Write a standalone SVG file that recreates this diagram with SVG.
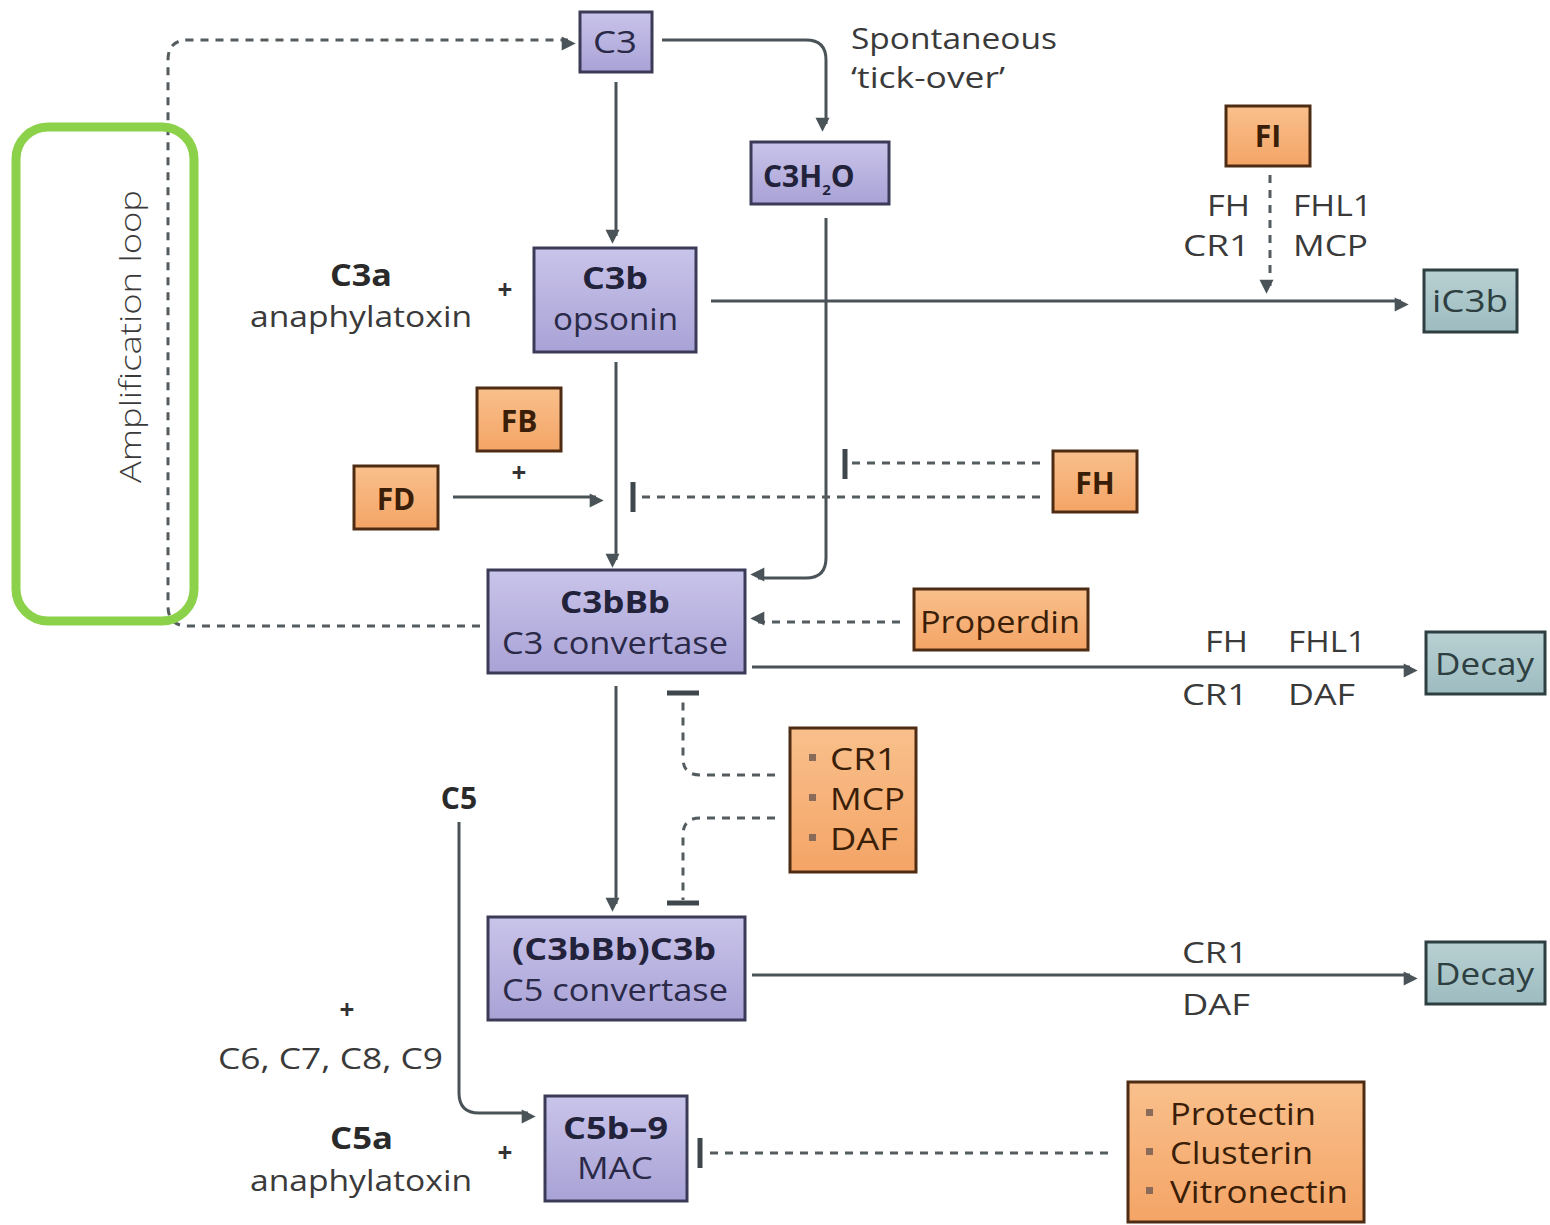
<svg xmlns="http://www.w3.org/2000/svg" width="1550" height="1225" viewBox="0 0 1550 1225">
<defs>
<linearGradient id="lav" x1="0" y1="0" x2="0" y2="1"><stop offset="0" stop-color="#c9c4ea"/><stop offset="1" stop-color="#a9a2d6"/></linearGradient>
<linearGradient id="org" x1="0" y1="0" x2="0" y2="1"><stop offset="0" stop-color="#f9c08c"/><stop offset="1" stop-color="#f4a466"/></linearGradient>
<linearGradient id="teal" x1="0" y1="0" x2="0" y2="1"><stop offset="0" stop-color="#b8d0d2"/><stop offset="1" stop-color="#9dbcc0"/></linearGradient>
<marker id="ah" viewBox="0 0 10 10" refX="9" refY="5" markerWidth="7" markerHeight="7" orient="auto" markerUnits="userSpaceOnUse" style="overflow:visible">
<path d="M0,0 L10,5 L0,10 z" fill="#4a5358" transform="scale(2)"/>
</marker>
<style>
.lav{fill:url(#lav);stroke:#3b3b58;stroke-width:3}
.org{fill:url(#org);stroke:#4e2c14;stroke-width:3}
.teal{fill:url(#teal);stroke:#2e3f42;stroke-width:3}
.ln{fill:none;stroke:#4a5358;stroke-width:3}
.ds{fill:none;stroke:#555c60;stroke-width:3;stroke-dasharray:8 7}
.bar{stroke:#3e474c;stroke-width:5}
text{font-family:"Open Sans","Liberation Sans",sans-serif}
.bt{font-weight:bold;fill:#22223a;font-size:30px}
.nt{fill:#2a2a48;font-size:31px}
.ot{fill:#3a1e08;font-size:31px}
.obt{fill:#3a1e08;font-size:30px;font-weight:bold}
.tt{fill:#2e3f42;font-size:31px}
.lb{fill:#3a3a3a;font-size:30px}
.lbb{fill:#2a2a2a;font-size:30px;font-weight:bold}
.pl{fill:#333;font-size:26px;font-weight:bold}
</style>
</defs>
<rect width="1550" height="1225" fill="#ffffff"/>

<g id="connectors">
<path class="ln" d="M616,82 V236" marker-end="url(#ah)"/>
<path class="ln" d="M662,40 H806 Q826,40 826,60 V124" marker-end="url(#ah)"/>
<path class="ln" d="M826,218 V558 Q826,578 806,578 H758" marker-end="url(#ah)"/>
<path class="ln" d="M616,362 V560" marker-end="url(#ah)"/>
<path class="ln" d="M453,497 H596" marker-end="url(#ah)"/>
<path class="ds" d="M1040,497 H636"/>
<line class="bar" x1="633" y1="482" x2="633" y2="512"/>
<path class="ds" d="M1040,463 H848"/>
<line class="bar" x1="845" y1="449" x2="845" y2="479"/>
<path class="ln" d="M711,301 H1401" marker-end="url(#ah)"/>
<path class="ds" d="M1270,175 V286" marker-end="url(#ah)"/>
<path class="ds" d="M480,626 H188 Q168,626 168,606 V60 Q168,40 188,40 H568" marker-end="url(#ah)"/>
<path class="ds" d="M900,622 H758" marker-end="url(#ah)"/>
<path class="ln" d="M752,667 H1410" marker-end="url(#ah)"/>
<path class="ln" d="M616,686 V904" marker-end="url(#ah)"/>
<path class="ds" d="M775,775 H700 Q683,775 683,758 V696"/>
<line class="bar" x1="667" y1="693" x2="699" y2="693"/>
<path class="ds" d="M775,818 H700 Q683,818 683,835 V900"/>
<line class="bar" x1="667" y1="903" x2="699" y2="903"/>
<path class="ln" d="M752,975 H1410" marker-end="url(#ah)"/>
<path class="ln" d="M459,822 V1093 Q459,1113 479,1113 H528" marker-end="url(#ah)"/>
<path class="ds" d="M1108,1153 H704"/>
<line class="bar" x1="700" y1="1138" x2="700" y2="1168"/>
</g>

<g id="amplification-loop">
<rect x="16" y="127" width="178" height="494" rx="32" fill="none" stroke="#8bd14a" stroke-width="9"/>
<text class="lb" x="-483" y="141" font-size="29" textLength="293" lengthAdjust="spacingAndGlyphs" transform="rotate(-90)" style="font-weight:300">Amplification loop</text>
</g>

<g id="C3"><rect class="lav" x="580" y="12" width="72" height="60"/><text class="nt" x="593" y="53" textLength="44" lengthAdjust="spacingAndGlyphs">C3</text></g>
<g id="tickover"><text class="lb" x="851" y="49" textLength="206" lengthAdjust="spacingAndGlyphs">Spontaneous</text><text class="lb" x="851" y="88" textLength="154" lengthAdjust="spacingAndGlyphs">‘tick-over’</text></g>
<g id="C3H2O"><rect class="lav" x="751" y="142" width="138" height="62"/><text class="bt" x="763" y="187" font-size="33">C3H<tspan font-size="15" dy="8">2</tspan><tspan dy="-8">O</tspan></text></g>
<g id="C3b"><rect class="lav" x="534" y="248" width="162" height="104"/><text class="bt" x="582" y="289" textLength="66" lengthAdjust="spacingAndGlyphs">C3b</text><text class="nt" x="553" y="330" textLength="125" lengthAdjust="spacingAndGlyphs">opsonin</text></g>
<g id="C3a"><text class="lbb" x="330" y="286" textLength="62" lengthAdjust="spacingAndGlyphs">C3a</text><text class="lb" x="250" y="327" textLength="222" lengthAdjust="spacingAndGlyphs">anaphylatoxin</text><text class="pl" x="505" y="299" text-anchor="middle">+</text></g>
<g id="FI"><rect class="org" x="1226" y="106" width="84" height="60"/><text class="obt" x="1268" y="147" text-anchor="middle">FI</text></g>
<g id="FI-labels"><text class="lb" x="1207" y="216" textLength="43" lengthAdjust="spacingAndGlyphs">FH</text><text class="lb" x="1293" y="216" textLength="79" lengthAdjust="spacingAndGlyphs">FHL1</text><text class="lb" x="1183" y="256" textLength="67" lengthAdjust="spacingAndGlyphs">CR1</text><text class="lb" x="1293" y="256" textLength="75" lengthAdjust="spacingAndGlyphs">MCP</text></g>
<g id="iC3b"><rect class="teal" x="1424" y="270" width="93" height="62"/><text class="tt" x="1432" y="312" textLength="76" lengthAdjust="spacingAndGlyphs">iC3b</text></g>
<g id="FB"><rect class="org" x="477" y="388" width="84" height="63"/><text class="obt" x="519" y="432" text-anchor="middle">FB</text><text class="pl" x="519" y="482" text-anchor="middle">+</text></g>
<g id="FD"><rect class="org" x="354" y="466" width="84" height="63"/><text class="obt" x="396" y="510" text-anchor="middle">FD</text></g>
<g id="FH"><rect class="org" x="1053" y="451" width="84" height="61"/><text class="obt" x="1095" y="494" text-anchor="middle">FH</text></g>
<g id="C3bBb"><rect class="lav" x="488" y="570" width="257" height="103"/><text class="bt" x="560" y="613" textLength="110" lengthAdjust="spacingAndGlyphs">C3bBb</text><text class="nt" x="502" y="654" textLength="226" lengthAdjust="spacingAndGlyphs">C3 convertase</text></g>
<g id="Properdin"><rect class="org" x="914" y="589" width="174" height="61"/><text class="ot" x="920" y="633" textLength="160" lengthAdjust="spacingAndGlyphs">Properdin</text></g>
<g id="decay1-labels"><text class="lb" x="1205" y="652" textLength="43" lengthAdjust="spacingAndGlyphs">FH</text><text class="lb" x="1288" y="652" textLength="78" lengthAdjust="spacingAndGlyphs">FHL1</text><text class="lb" x="1182" y="705" textLength="66" lengthAdjust="spacingAndGlyphs">CR1</text><text class="lb" x="1288" y="705" textLength="67" lengthAdjust="spacingAndGlyphs">DAF</text></g>
<g id="Decay1"><rect class="teal" x="1426" y="632" width="119" height="62"/><text class="tt" x="1435" y="675" textLength="99" lengthAdjust="spacingAndGlyphs">Decay</text></g>
<g id="CR1-MCP-DAF"><rect class="org" x="790" y="728" width="126" height="144"/>
<rect x="809" y="754" width="7" height="7" fill="#8a6a58"/><text class="ot" x="830" y="770" textLength="67" lengthAdjust="spacingAndGlyphs">CR1</text>
<rect x="809" y="794" width="7" height="7" fill="#8a6a58"/><text class="ot" x="830" y="810" textLength="75" lengthAdjust="spacingAndGlyphs">MCP</text>
<rect x="809" y="834" width="7" height="7" fill="#8a6a58"/><text class="ot" x="830" y="850" textLength="68" lengthAdjust="spacingAndGlyphs">DAF</text></g>
<g id="C5"><text class="lbb" x="459" y="809" text-anchor="middle">C5</text></g>
<g id="C5conv"><rect class="lav" x="488" y="917" width="257" height="103"/><text class="bt" x="512" y="960" textLength="204" lengthAdjust="spacingAndGlyphs">(C3bBb)C3b</text><text class="nt" x="502" y="1001" textLength="226" lengthAdjust="spacingAndGlyphs">C5 convertase</text></g>
<g id="decay2-labels"><text class="lb" x="1182" y="963" textLength="66" lengthAdjust="spacingAndGlyphs">CR1</text><text class="lb" x="1182" y="1015" textLength="68" lengthAdjust="spacingAndGlyphs">DAF</text></g>
<g id="Decay2"><rect class="teal" x="1426" y="942" width="119" height="62"/><text class="tt" x="1435" y="985" textLength="99" lengthAdjust="spacingAndGlyphs">Decay</text></g>
<g id="C6-9"><text class="pl" x="347" y="1019" text-anchor="middle">+</text><text class="lb" x="218" y="1069" textLength="225" lengthAdjust="spacingAndGlyphs">C6, C7, C8, C9</text></g>
<g id="C5a"><text class="lbb" x="330" y="1149" textLength="63" lengthAdjust="spacingAndGlyphs">C5a</text><text class="lb" x="250" y="1191" textLength="222" lengthAdjust="spacingAndGlyphs">anaphylatoxin</text><text class="pl" x="505" y="1162" text-anchor="middle">+</text></g>
<g id="C5b-9"><rect class="lav" x="545" y="1096" width="142" height="105"/><text class="bt" x="563" y="1139" textLength="105" lengthAdjust="spacingAndGlyphs">C5b–9</text><text class="nt" x="577" y="1179" textLength="76" lengthAdjust="spacingAndGlyphs">MAC</text></g>
<g id="Protectin"><rect class="org" x="1128" y="1082" width="236" height="140"/>
<rect x="1146" y="1109" width="7" height="7" fill="#8a6a58"/><text class="ot" x="1170" y="1125" textLength="146" lengthAdjust="spacingAndGlyphs">Protectin</text>
<rect x="1146" y="1148" width="7" height="7" fill="#8a6a58"/><text class="ot" x="1170" y="1164" textLength="143" lengthAdjust="spacingAndGlyphs">Clusterin</text>
<rect x="1146" y="1187" width="7" height="7" fill="#8a6a58"/><text class="ot" x="1170" y="1203" textLength="178" lengthAdjust="spacingAndGlyphs">Vitronectin</text></g>
</svg>
